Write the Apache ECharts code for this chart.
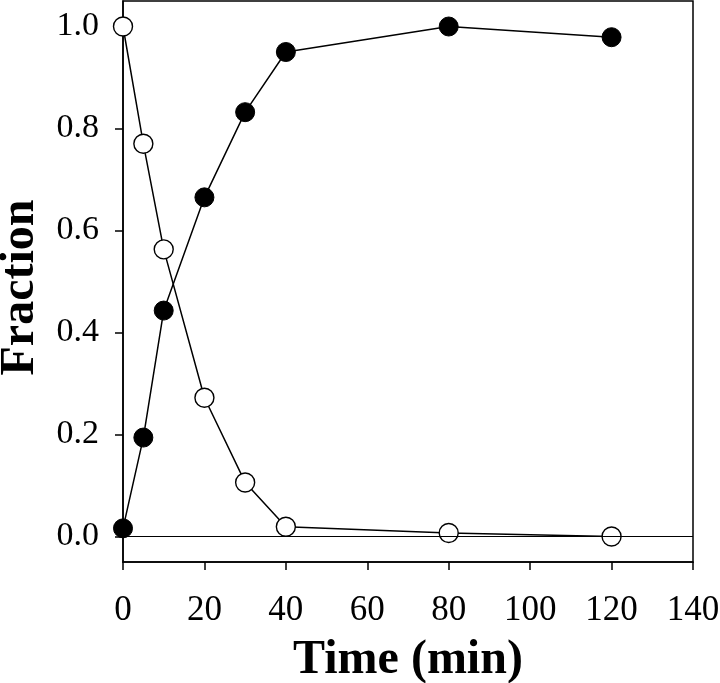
<!DOCTYPE html>
<html>
<head>
<meta charset="utf-8">
<script src="https://cdn.jsdelivr.net/npm/echarts@6/dist/echarts.min.js"></script>
<style>html,body{margin:0;padding:0;background:#fff}#c{width:720px;height:683px}</style>
</head>
<body>
<div id="c"></div>
<script>
var times = [0, 5, 10, 20, 30, 40, 80, 120];
var openValues = [1.0, 0.77, 0.563, 0.272, 0.106, 0.019, 0.007, 0.0];
var filledValues = [0.016, 0.194, 0.443, 0.665, 0.832, 0.950, 1.0, 0.979];
var xTicks = [0, 20, 40, 60, 80, 100, 120, 140];
var yTicks = [0, 0.2, 0.4, 0.6, 0.8, 1.0];

function pairs(xs, ys) { return xs.map(function (x, i) { return [x, ys[i]]; }); }

var font = 'Liberation Serif';
var chart = echarts.init(document.getElementById('c'));
chart.setOption({
  animation: false,
  backgroundColor: '#fff',
  grid: { left: 123, right: 27, top: 1, bottom: 121, containLabel: false, outerBoundsMode: 'none',
    show: true, borderColor: '#000', borderWidth: 1.5, backgroundColor: 'transparent' },
  xAxis: {
    type: 'value', min: 0, max: 140, interval: 20,
    name: 'Time (min)', nameLocation: 'middle', nameGap: 75, nameMoveOverlap: false,
    nameTextStyle: { fontFamily: font, fontWeight: 'bold', fontSize: 48, color: '#000' },
    axisLine: { show: true, onZero: false, lineStyle: { color: '#000', width: 1.5 } },
    axisTick: { show: true, inside: false, length: 8, lineStyle: { color: '#000', width: 1.5 }, customValues: xTicks },
    axisLabel: { fontFamily: font, fontSize: 35, color: '#000', margin: 31, customValues: xTicks },
    splitLine: { show: false }
  },
  yAxis: {
    type: 'value', min: -0.05, max: 1.05,
    name: 'Fraction', nameLocation: 'middle', nameGap: 78, nameMoveOverlap: false,
    nameTextStyle: { fontFamily: font, fontWeight: 'bold', fontSize: 48, color: '#000', padding: [0, 0, 0, -12] },
    axisLine: { show: true, onZero: false, lineStyle: { color: '#000', width: 1.5 } },
    axisTick: { show: true, inside: false, length: 8, lineStyle: { color: '#000', width: 1.5 }, customValues: yTicks },
    axisLabel: { fontFamily: font, fontSize: 34, color: '#000', margin: 24, customValues: yTicks,
      formatter: function (v) { return v.toFixed(1); } },
    splitLine: { show: false }
  },
  series: [
    {
      type: 'line', data: pairs(times, openValues),
      symbol: 'circle', symbolSize: 19, showAllSymbol: true,
      lineStyle: { color: '#000', width: 1.5 },
      itemStyle: { color: '#fff', borderColor: '#000', borderWidth: 1.4 },
      z: 3,
      markLine: {
        silent: true, symbol: ['none', 'none'], label: { show: false },
        lineStyle: { color: '#000', width: 1.2, type: 'solid' },
        data: [{ yAxis: 0 }]
      }
    },
    {
      type: 'line', data: pairs(times, filledValues),
      symbol: 'circle', symbolSize: 19, showAllSymbol: true,
      lineStyle: { color: '#000', width: 1.5 },
      itemStyle: { color: '#000', borderColor: '#000', borderWidth: 1 },
      z: 4
    }
  ]
});
</script>
</body>
</html>
